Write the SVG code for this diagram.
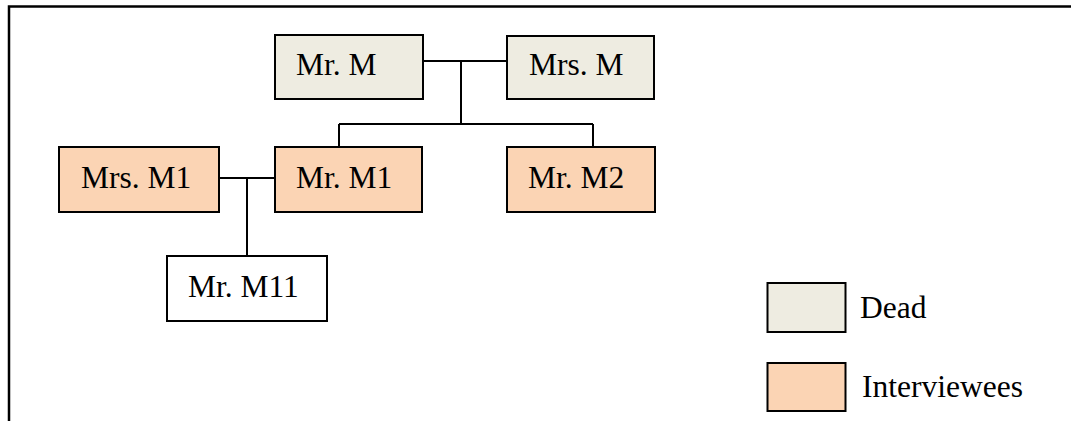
<svg xmlns="http://www.w3.org/2000/svg" width="1071" height="421" viewBox="0 0 1071 421">
<style>
.box{stroke:#000;stroke-width:2}
.dead{fill:#EEECE1}
.int{fill:#FBD4B4}
.plain{fill:#fff}
.t{font-family:"Liberation Serif","Times New Roman",serif;font-size:31.5px;fill:#000}
.ln{stroke:#000;stroke-width:2;fill:none}
</style>
<rect width="1071" height="421" fill="#fff"/>
<g id="frame"><path class="ln" style="stroke-width:2.5" d="M9,421 V6.5 H1071"/></g>
<g id="connectors">
<path class="ln" d="M423,61 H507 M461,61 V124 M339,124 H593 M339,124 V147 M593,124 V147"/>
<path class="ln" d="M219,178 H275 M247,178 V256"/>
</g>
<g id="mr_m"><rect class="box dead" x="275" y="35" width="148" height="64"/><text class="t" x="296" y="75">Mr. M</text></g>
<g id="mrs_m"><rect class="box dead" x="507" y="36" width="147" height="63"/><text class="t" x="529" y="75">Mrs. M</text></g>
<g id="mrs_m1"><rect class="box int" x="59" y="147" width="160" height="65"/><text class="t" x="81" y="188">Mrs. M1</text></g>
<g id="mr_m1"><rect class="box int" x="275" y="147" width="147" height="65"/><text class="t" x="296" y="188">Mr. M1</text></g>
<g id="mr_m2"><rect class="box int" x="507" y="147" width="148" height="65"/><text class="t" x="528" y="188">Mr. M2</text></g>
<g id="mr_m11"><rect class="box plain" x="167" y="256" width="160" height="65"/><text class="t" x="188" y="297">Mr. M11</text></g>
<g id="legend_dead"><rect class="box dead" x="767.5" y="283" width="78" height="49"/><text class="t" x="860" y="318">Dead</text></g>
<g id="legend_int"><rect class="box int" x="767.5" y="363" width="78" height="48"/><text class="t" x="862" y="397">Interviewees</text></g>
</svg>
